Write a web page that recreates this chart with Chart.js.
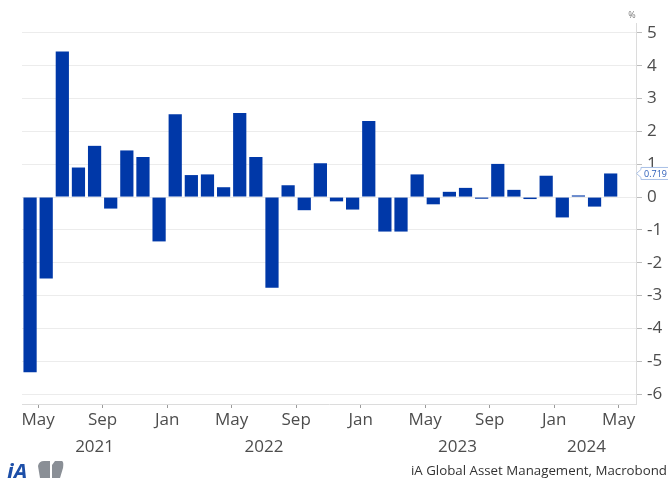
<!DOCTYPE html>
<html>
<head>
<meta charset="utf-8">
<script src="https://cdn.jsdelivr.net/npm/chart.js@4.4.1/dist/chart.umd.min.js"></script>
<style>
  html, body { margin: 0; padding: 0; background: #fff; }
  #wrap { width: 668px; height: 478px; position: relative; }
</style>
</head>
<body>
<div id="wrap"><canvas id="grafico" width="668" height="478"></canvas></div>
<script>
/* ---------------------------------------------------------------
   DADOS (% m/m)
--------------------------------------------------------------- */
const meses = [
  "2021-04","2021-05","2021-06","2021-07","2021-08","2021-09","2021-10","2021-11","2021-12",
  "2022-01","2022-02","2022-03","2022-04","2022-05","2022-06","2022-07","2022-08","2022-09",
  "2022-10","2022-11","2022-12","2023-01","2023-02","2023-03","2023-04","2023-05","2023-06",
  "2023-07","2023-08","2023-09","2023-10","2023-11","2023-12","2024-01","2024-02","2024-03",
  "2024-04"
];
const valores = [
  -5.33, -2.48, 4.43, 0.90, 1.56, -0.35, 1.42, 1.22, -1.35,
  2.52, 0.67, 0.69, 0.30, 2.56, 1.22, -2.76, 0.36, -0.40,
  1.03, -0.13, -0.38, 2.32, -1.05, -1.05, 0.69, -0.22, 0.16,
  0.28, -0.05, 1.01, 0.22, -0.06, 0.65, -0.62, 0.05, -0.29,
  0.719
];
const nomesMes = ["Jan","Feb","Mar","Apr","May","Jun","Jul","Aug","Sep","Oct","Nov","Dec"];
const mesesComRotulo = [1, 5, 9];           // Jan, May, Sep
const anos = ["2021", "2022", "2023", "2024"];
const yTicks = [5, 4, 3, 2, 1, 0, -1, -2, -3, -4, -5, -6];
const ultimoValor = "0.719";

const AZUL = "#0038a8";
const FONTE = "'Open Sans', 'Noto Sans', sans-serif";

/* posições dos ticks do eixo x: fronteira antes de Jan/May/Sep */
const xTicks = [];
meses.forEach((m, i) => {
  const mesSeguinte = (parseInt(m.slice(5)) % 12) + 1;
  if (mesesComRotulo.includes(mesSeguinte)) xTicks.push({ value: i + 0.5, label: nomesMes[mesSeguinte - 1] });
});

const X_MAX = 37.57;

/* ---------------------------------------------------------------
   PLUGIN: anos, etiqueta do último valor, rodapé
--------------------------------------------------------------- */
const extras = {
  id: "extras",
  afterDraw(chart) {
    const ctx = chart.ctx;
    const xs = chart.scales.x;
    const ys = chart.scales.y;
    const area = chart.chartArea;
    ctx.save();

    // anos centrados na parte visível
    ctx.font = "17px " + FONTE;
    ctx.fillStyle = "#4d4d4d";
    ctx.textAlign = "center";
    ctx.textBaseline = "middle";
    anos.forEach(a => {
      const idx = meses.map((m, i) => m.startsWith(a) ? i : -1).filter(i => i >= 0);
      const x0 = Math.max(xs.getPixelForValue(idx[0] - 0.5), area.left);
      const x1 = Math.min(xs.getPixelForValue(idx[idx.length - 1] + 0.5), area.right);
      ctx.fillText(a, (x0 + x1) / 2, 447);
    });

    // "%"
    ctx.font = "9px " + FONTE;
    ctx.fillStyle = "#777";
    ctx.fillText("%", 632, 15);

    // etiqueta 0.719
    const yv = ys.getPixelForValue(valores[valores.length - 1]);
    const bx = 641, bw = 30, bh = 12;
    ctx.beginPath();
    ctx.moveTo(area.right + 0.5, yv);
    ctx.lineTo(bx, yv - 4);
    ctx.lineTo(bx, yv - bh / 2);
    ctx.lineTo(bx + bw, yv - bh / 2);
    ctx.lineTo(bx + bw, yv + bh / 2);
    ctx.lineTo(bx, yv + bh / 2);
    ctx.lineTo(bx, yv + 4);
    ctx.closePath();
    ctx.fillStyle = "#fff";
    ctx.fill();
    ctx.strokeStyle = "#a9c0e6";
    ctx.lineWidth = 1;
    ctx.stroke();
    ctx.font = "9px " + FONTE;
    ctx.fillStyle = "#2a5cb8";
    ctx.textAlign = "left";
    ctx.fillText(ultimoValor, bx + 3, yv + 0.5);

    // rodapé
    ctx.font = "13.3px " + FONTE;
    ctx.fillStyle = "#333";
    ctx.textAlign = "right";
    ctx.textBaseline = "alphabetic";
    ctx.fillText("iA Global Asset Management, Macrobond", 667, 475);

    // logo iA
    ctx.font = "italic bold 22px " + FONTE;
    ctx.fillStyle = "#1d4fa8";
    ctx.textAlign = "left";
    ctx.fillText("iA", 7, 479);
    ctx.fillStyle = "#8a8f96";
    ctx.beginPath();
    ctx.moveTo(40, 478); ctx.lineTo(38, 466); ctx.quadraticCurveTo(39, 461, 44, 461);
    ctx.lineTo(50, 461); ctx.lineTo(50, 478); ctx.closePath(); ctx.fill();
    ctx.beginPath();
    ctx.moveTo(52, 478); ctx.lineTo(52, 465); ctx.lineTo(55, 461); ctx.lineTo(62, 461);
    ctx.quadraticCurveTo(64, 462, 63, 468); ctx.lineTo(60, 478); ctx.closePath(); ctx.fill();

    ctx.restore();
  }
};

/* ---------------------------------------------------------------
   GRÁFICO
--------------------------------------------------------------- */
new Chart(document.querySelector("#grafico"), {
  type: "bar",
  data: {
    datasets: [{
      data: valores.map((v, i) => ({ x: i, y: v })),
      backgroundColor: AZUL,
      borderWidth: 0,
      barPercentage: 0.82,
      categoryPercentage: 1
    }]
  },
  options: {
    responsive: false,
    animation: false,
    layout: { padding: { left: 22, top: 23, right: 0, bottom: 0 } },
    plugins: { legend: { display: false }, tooltip: { enabled: false } },
    scales: {
      x: {
        type: "linear",
        offset: false,
        min: -0.5,
        max: X_MAX,
        afterBuildTicks: s => { s.ticks = xTicks.map(t => ({ value: t.value })); },
        afterFit: s => { s.height = 74; },
        ticks: {
          callback: v => (xTicks.find(t => Math.abs(t.value - v) < 0.01) || {}).label,
          font: { family: FONTE, size: 17 },
          color: "#4d4d4d",
          padding: 2,
          maxRotation: 0,
          autoSkip: false
        },
        grid: { offset: false, drawOnChartArea: false, drawTicks: true, tickLength: 4, color: "#9a9a9a" },
        border: { display: true, color: "#dcdcdc" }
      },
      y: {
        position: "right",
        min: -6.3,
        max: 5.3,
        afterBuildTicks: s => { s.ticks = yTicks.map(v => ({ value: v })); },
        afterFit: s => { s.width = 32; },
        ticks: {
          font: { family: FONTE, size: 17 },
          color: "#4d4d4d",
          padding: 5
        },
        grid: { color: "#ececec", tickLength: 6, tickColor: "#bdbdbd" },
        border: { display: true, color: "#dcdcdc" }
      }
    }
  },
  plugins: [extras]
});
</script>
</body>
</html>
